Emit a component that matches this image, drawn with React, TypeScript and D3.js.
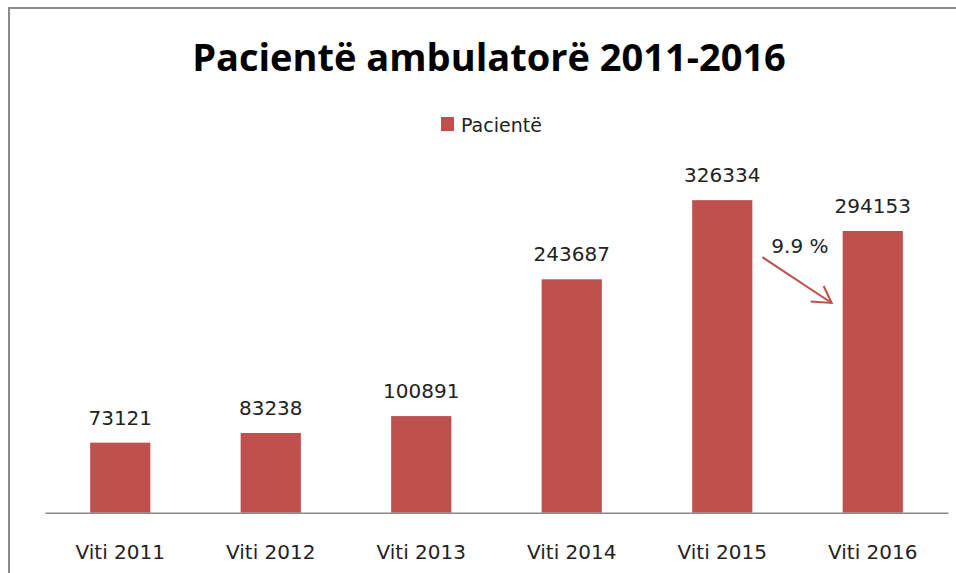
import React, { useEffect, useRef } from 'react';
import * as d3 from 'd3';

const width = 956;
const height = 573;

const categories = ['Viti 2011', 'Viti 2012', 'Viti 2013', 'Viti 2014', 'Viti 2015', 'Viti 2016'];
const patients = [73121, 83238, 100891, 243687, 326334, 294153];
const seriesName = 'Pacientë';
const title = 'Pacientë ambulatorë 2011-2016';

const barColor = '#C0504D';
const font = '"DejaVu Sans", sans-serif';

function App() {
  const ref = useRef<SVGSVGElement | null>(null);

  useEffect(() => {
    const svg = d3.select(ref.current);
    svg.selectAll('*').remove();

    const x = d3.scaleBand().domain(categories).range([45, 948]).paddingInner(0.6).paddingOuter(0.3);
    const y = d3.scaleLinear().domain([0, 350000]).range([512.7, 177.5]);

    // outer frame (only top/left visible)
    svg
      .append('rect')
      .attr('x', 9)
      .attr('y', 8)
      .attr('width', width + 20)
      .attr('height', height + 20)
      .attr('fill', 'none')
      .attr('stroke', '#898989')
      .attr('stroke-width', 2);

    svg
      .append('text')
      .attr('x', 489)
      .attr('y', 71)
      .attr('text-anchor', 'middle')
      .style('font-family', '"Open Sans", sans-serif')
      .style('font-weight', 'bold')
      .style('font-size', '38px')
      .attr('fill', '#000')
      .text(title);

    // legend
    const legend = svg.append('g');
    legend.append('rect').attr('x', 441).attr('y', 117).attr('width', 13).attr('height', 14).attr('fill', barColor);
    legend
      .append('text')
      .attr('x', 461)
      .attr('y', 132)
      .style('font-family', font)
      .style('font-size', '19px')
      .attr('fill', '#222')
      .text(seriesName);

    svg
      .selectAll('rect.bar')
      .data(patients)
      .enter()
      .append('rect')
      .attr('class', 'bar')
      .attr('x', (d, i) => x(categories[i]) as number)
      .attr('width', x.bandwidth())
      .attr('y', (d) => y(d))
      .attr('height', (d) => y(0) - y(d))
      .attr('fill', barColor);

    svg
      .selectAll('text.val')
      .data(patients)
      .enter()
      .append('text')
      .attr('class', 'val')
      .attr('x', (d, i) => (x(categories[i]) as number) + x.bandwidth() / 2)
      .attr('y', (d) => y(d) - 18)
      .attr('text-anchor', 'middle')
      .style('font-family', font)
      .style('font-size', '20px')
      .attr('fill', '#222')
      .text((d) => d);

    // x axis
    const xAxis = svg
      .append('g')
      .attr('transform', `translate(0, ${y(0)})`)
      .call(d3.axisBottom(x).tickSize(0).tickPadding(32));
    xAxis.select('.domain').attr('stroke', '#888').attr('stroke-width', 1.5);
    xAxis
      .selectAll('text')
      .style('font-family', font)
      .style('font-size', '20px')
      .attr('fill', '#222');

    // decrease annotation between the last two bars
    const a = x(categories[4]) as number;
    const b = x(categories[5]) as number;
    const x0 = a + x.bandwidth() + 10;
    const x1 = b - 11;
    const y0 = y(patients[4]) + 57;
    const y1 = y(patients[5]) + 72;
    const drop = ((patients[4] - patients[5]) / patients[4]) * 100;
    svg
      .append('text')
      .attr('x', x0 + 9)
      .attr('y', y0 - 4)
      .style('font-family', font)
      .style('font-size', '20px')
      .attr('fill', '#222')
      .text(`${drop.toFixed(1)} %`);
    const arrow = svg.append('g').attr('stroke', barColor).attr('stroke-width', 2).attr('fill', 'none');
    arrow.append('line').attr('x1', x0).attr('y1', y0).attr('x2', x1).attr('y2', y1);
    arrow
      .append('path')
      .attr('d', d3.line()([[x1 - 21, y1 - 1.5], [x1, y1], [x1 - 8, y1 - 17]]) as string);
  }, []);

  return (
    <div style={{ position: 'absolute', left: 0, top: 0 }}>
      <svg ref={ref} width={width} height={height} style={{ display: 'block', background: '#fff' }} />
    </div>
  );
}

export default App;
